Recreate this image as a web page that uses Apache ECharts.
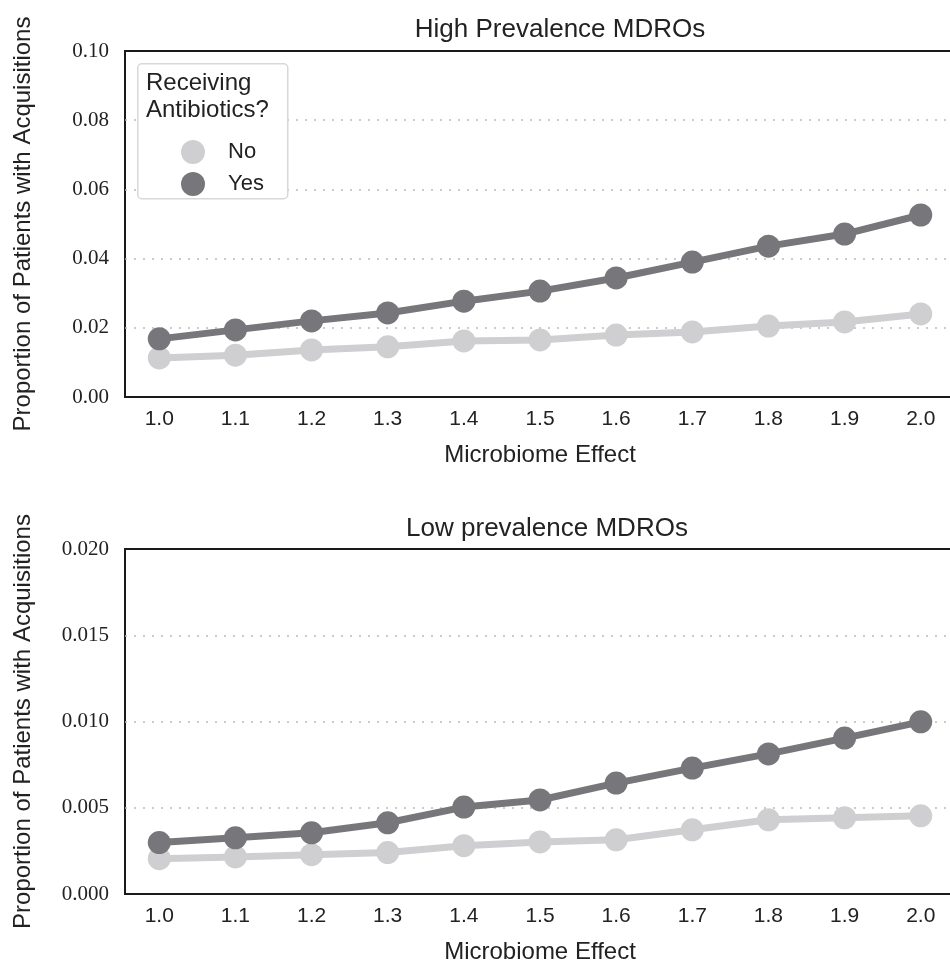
<!DOCTYPE html>
<html>
<head>
<meta charset="utf-8">
<script src="https://cdn.jsdelivr.net/npm/echarts@6/dist/echarts.min.js"></script>
<style>
  html, body { margin: 0; padding: 0; background: #fff; }
  #chart { width: 950px; height: 971px; }
</style>
</head>
<body>
<div id="chart"></div>
<script>
// microbiome effect (x)
var effect = [1.0, 1.1, 1.2, 1.3, 1.4, 1.5, 1.6, 1.7, 1.8, 1.9, 2.0];
// high prevalence MDROs
var highNo  = [0.0113, 0.0121, 0.0136, 0.0145, 0.0162, 0.0165, 0.0179, 0.0188, 0.0205, 0.0217, 0.0240];
var highYes = [0.0168, 0.0194, 0.0220, 0.0243, 0.0277, 0.0306, 0.0344, 0.0390, 0.0436, 0.0471, 0.0526];
// low prevalence MDROs
var lowNo  = [0.00205, 0.00215, 0.00228, 0.00240, 0.00280, 0.00302, 0.00314, 0.00372, 0.00430, 0.00442, 0.00453];
var lowYes = [0.00298, 0.00326, 0.00355, 0.00413, 0.00504, 0.00545, 0.00643, 0.00730, 0.00812, 0.00904, 0.00998];

var colNo = '#cfcfd1';
var colYes = '#77777b';

function pairs(ys) {
    return effect.map(function (x, i) { return [x, ys[i]]; });
}

function xAx(idx) {
    return {
        type: 'value', gridIndex: idx, min: 0.955, max: 2.045,
        name: 'Microbiome Effect', nameLocation: 'middle', nameGap: 46,
        nameTextStyle: { fontFamily: 'Liberation Sans', fontSize: 24, color: '#222' },
        axisLine: { show: false },
        axisTick: { show: false },
        splitLine: { show: false },
        axisLabel: {
            customValues: effect, margin: 12,
            fontFamily: 'Liberation Sans', fontSize: 21, color: '#222',
            formatter: function (v) { return v.toFixed(1); }
        }
    };
}

function yAx(idx, max, interval, digits) {
    return {
        type: 'value', gridIndex: idx, min: 0, max: max, interval: interval,
        name: 'Proportion of Patients with Acquisitions', nameLocation: 'middle', nameGap: 90,
        nameTextStyle: { fontFamily: 'Liberation Sans', fontSize: 24, color: '#222' },
        axisLine: { show: false },
        axisTick: { show: false },
        axisLabel: {
            margin: 16, fontFamily: 'Liberation Serif', fontSize: 21, color: '#222',
            formatter: function (v) { return v.toFixed(digits); }
        },
        splitLine: {
            show: true, showMinLine: false, showMaxLine: false,
            lineStyle: { color: '#bbbbbb', type: [2, 7], width: 1.5 }
        }
    };
}

function line(name, xi, data, color) {
    return {
        name: name, type: 'line', xAxisIndex: xi, yAxisIndex: xi,
        data: pairs(data), symbol: 'circle', symbolSize: 23,
        lineStyle: { color: color, width: 7 },
        itemStyle: { color: color },
        emphasis: { disabled: true },
        z: name === 'Yes' ? 3 : 2
    };
}

var chart = echarts.init(document.getElementById('chart'));
chart.setOption({
    animation: false,
    backgroundColor: '#fff',
    title: [
        { text: 'High Prevalence MDROs', left: 555, top: 12, textAlign: 'center',
          textStyle: { fontFamily: 'Liberation Sans', fontSize: 26, fontWeight: 'normal', color: '#222' } },
        { text: 'Low prevalence MDROs', left: 542, top: 511, textAlign: 'center',
          textStyle: { fontFamily: 'Liberation Sans', fontSize: 26, fontWeight: 'normal', color: '#222' } }
    ],
    grid: [
        { left: 125, top: 51, width: 830, height: 346, outerBoundsMode: 'none',
          show: true, borderColor: '#1a1a1a', borderWidth: 2, backgroundColor: 'transparent' },
        { left: 125, top: 549, width: 830, height: 345, outerBoundsMode: 'none',
          show: true, borderColor: '#1a1a1a', borderWidth: 2, backgroundColor: 'transparent' }
    ],
    xAxis: [xAx(0), xAx(1)],
    yAxis: [yAx(0, 0.10, 0.02, 2), yAx(1, 0.020, 0.005, 3)],
    legend: {
        data: ['No', 'Yes'], orient: 'vertical', left: 176, top: 135, z: 20,
        icon: 'circle', itemWidth: 24, itemHeight: 24, itemGap: 8,
        textStyle: { fontFamily: 'Liberation Sans', fontSize: 22, color: '#222', padding: [0, 0, 0, 18] }
    },
    graphic: [
        { type: 'rect', left: 137, top: 63, z: 10, shape: { width: 150, height: 135, r: 4 },
          style: { fill: '#fff', stroke: '#d8d8d8', lineWidth: 1.5 } },
        { type: 'text', left: 146, top: 70, z: 11,
          style: { text: 'Receiving\nAntibiotics?', fontFamily: 'Liberation Sans', fontSize: 24, lineHeight: 27, fill: '#222' } }
    ],
    series: [
        line('No', 0, highNo, colNo),
        line('Yes', 0, highYes, colYes),
        line('No', 1, lowNo, colNo),
        line('Yes', 1, lowYes, colYes)
    ]
});
</script>
</body>
</html>
